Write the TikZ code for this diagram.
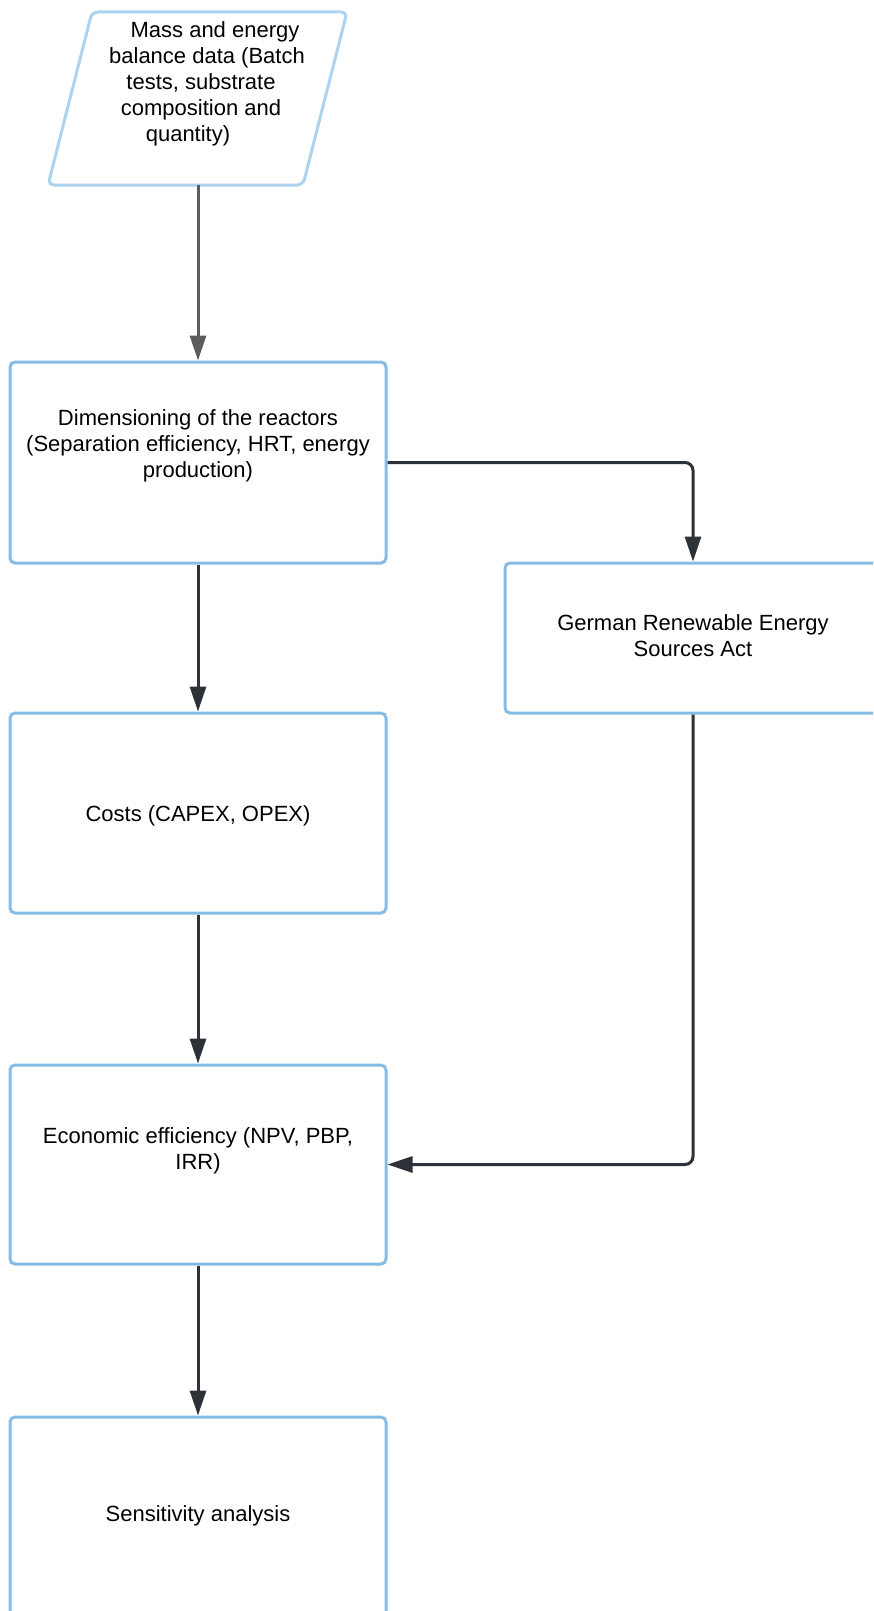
\documentclass[tikz,border=0pt]{standalone}
\usepackage{fontspec}
\setmainfont{Liberation Sans}
\usetikzlibrary{arrows.meta,positioning}

\definecolor{boxblue}{RGB}{133,187,229}
\definecolor{parablue}{RGB}{172,211,240}
\definecolor{flowdark}{RGB}{45,49,56}
\definecolor{flowgrey}{RGB}{92,92,92}

\tikzset{
    box/.style={draw=boxblue, line width=3pt, rounded corners=5pt, inner sep=0pt, minimum width=376pt},
    txt/.style={align=center, inner sep=0pt, font=\fontsize{22}{26}\selectfont},
    flow/.style={draw=flowdark, line width=3pt, rounded corners=8pt, -{Triangle[length=25pt,width=16pt]}},
}

\begin{document}
\begin{tikzpicture}[x=1pt,y=-1pt]

    \def \boxx {198}
    \def \boxh {200}

    \useasboundingbox (0,0) rectangle (873,1611);
    \clip (0,0) rectangle (873,1611);

    % Input data: parallelogram at the top
    \draw[draw=parablue, line width=3pt, rounded corners=6pt] (92,12) -- (347,12) -- (303,185) -- (48,185) -- cycle;
    \node[txt] (masstext) at (201,84) {\hspace*{28pt}Mass and energy\\ \hspace*{12pt}balance data (Batch\\ tests, substrate\\ composition and\hspace*{16pt}\\ quantity)\hspace*{26pt}};
    \coordinate (massout) at (\boxx,185);

    % Left column of boxes
    \node[box, minimum height=201pt] (dim) at (\boxx,462.5) {};
    \node[txt] (dimtext) at (\boxx,445.5) {Dimensioning of the reactors\\ (Separation efficiency, HRT, energy\\ production)};

    \node[box, minimum height=\boxh pt] (costs) at (\boxx,813) {};
    \node[txt] (coststext) at (\boxx,816) {Costs (CAPEX, OPEX)};

    \node[box, minimum height=199pt] (econ) at (\boxx,1164.5) {};
    \node[txt] (econtext) at (\boxx,1150.7) {Economic efficiency (NPV, PBP,\\ IRR)};

    \node[box, minimum height=\boxh pt] (sens) at (\boxx,1517) {};
    \node[txt] (senstext) at (\boxx,1516) {Sensitivity analysis};

    % Right box, runs off the page
    \node[box, minimum height=150pt] (eeg) at (693,638) {};
    \node[txt] (eegtext) at (693,635.7) {German Renewable Energy\\ Sources Act};

    % Connectors
    \draw[flow, draw=flowgrey, -{Triangle[length=25pt,width=16pt,fill=flowgrey]}] (massout) -- (dim.north);
    \draw[flow] (dim.south) -- (costs.north);
    \draw[flow] (costs.south) -- (econ.north);
    \draw[flow] (econ.south) -- (sens.north);
    \draw[flow] (dim.east) -| (eeg.north);
    \draw[flow] (eeg.south) |- (econ.east);

\end{tikzpicture}
\end{document}
